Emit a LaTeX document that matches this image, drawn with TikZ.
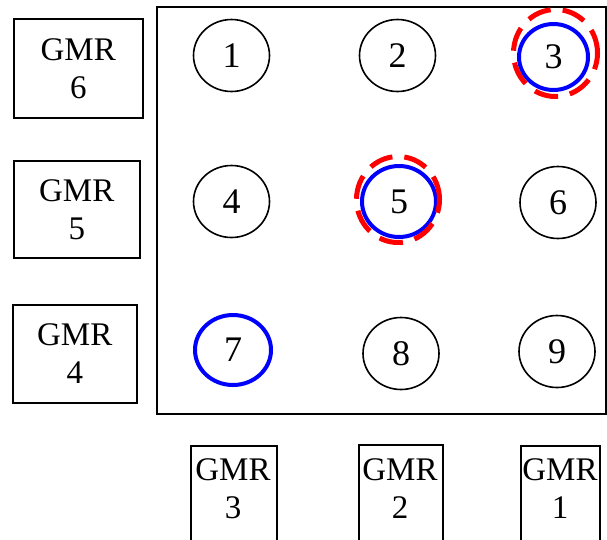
\documentclass[tikz,border=0pt]{standalone}
\usepackage{fontspec}
\setmainfont{Liberation Serif}
\usetikzlibrary{shapes.geometric}
\tikzset{
  x=1pt, y=-1pt,
  gmrbox/.style={draw, line width=1.5pt, rectangle, inner sep=0pt, anchor=north west},
  gmrtext/.style={align=center, inner sep=0pt, font=\fontsize{33}{38}\selectfont},
  well/.style={draw, line width=1.6pt, ellipse, inner sep=0pt,
    minimum width=76pt, minimum height=72pt, font=\fontsize{36}{40}\selectfont},
  hit/.style={draw=blue, line width=4pt},
  ring/.style={draw=red, line width=5pt, ellipse, inner sep=0pt, dash pattern=on 24pt off 12pt}
}
\begin{document}
\begin{tikzpicture}
\useasboundingbox (0,0) rectangle (607,539);
\clip (0,0) rectangle (607,539);

% sensor grid frame
\draw[line width=1.6pt] (157,7) rectangle (606,414);

% GMR sensors on the left side
\node[gmrbox, minimum width=129pt, minimum height=99pt] (g6) at (13,18) {};
\node[gmrtext] (t6) at (g6.center) {GMR\\6};
\node[gmrbox, minimum width=126pt, minimum height=97pt] (g5) at (13,160) {};
\node[gmrtext] (t5) at (g5.center) {GMR\\5};
\node[gmrbox, minimum width=124pt, minimum height=98pt] (g4) at (12,304) {};
\node[gmrtext] (t4) at (g4.center) {GMR\\4};

% GMR sensors along the bottom
\node[gmrbox, minimum width=86pt, minimum height=110pt] (g3) at (190,445) {};
\node[gmrtext] (t3) at (233,489) {GMR\\3};
\node[gmrbox, minimum width=84pt, minimum height=110pt] (g2) at (358,444) {};
\node[gmrtext] (t2) at (400,489) {GMR\\2};
\node[gmrbox, minimum width=79pt, minimum height=110pt] (g1) at (520,445) {};
\node[gmrtext] (t1) at (560,489) {GMR\\1};

% wells
\node[well] (w1) at (231.5,55.5) {\raisebox{-4pt}{1}};
\node[well] (w2) at (397.5,55.5) {\raisebox{-4pt}{2}};
\node[well, hit, minimum width=69pt, minimum height=66pt] (w3) at (553.5,57) {\raisebox{-4pt}{3}};
\node[well] (w4) at (231.5,201.5) {\raisebox{-4pt}{4}};
\node[well, hit, minimum width=74pt, minimum height=71pt] (w5) at (399,201.5) {\raisebox{-4pt}{5}};
\node[well] (w6) at (558,202.5) {\raisebox{-4pt}{6}};
\node[well, hit, minimum width=76pt, minimum height=70pt] (w7) at (233,350) {\raisebox{-4pt}{7}};
\node[well] (w8) at (401,353.5) {\raisebox{-4pt}{8}};
\node[well] (w9) at (557,351.5) {\raisebox{-4pt}{9}};

% dashed markers round the detected wells
\node[ring, minimum width=84pt, minimum height=87pt] (r3) at (555.5,53) {};
\node[ring, minimum width=83pt, minimum height=86pt] (r5) at (398,199.5) {};
\end{tikzpicture}
\end{document}
